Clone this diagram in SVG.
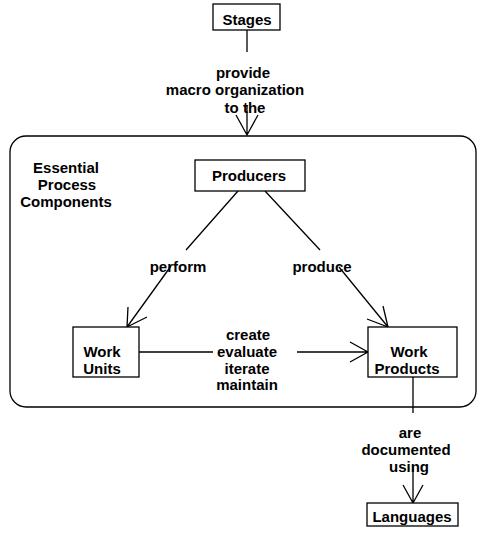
<svg xmlns="http://www.w3.org/2000/svg" width="478" height="538" viewBox="0 0 478 538">
<style>
text{font-family:"Liberation Sans",Arial,sans-serif;font-weight:bold;font-size:15px;fill:#000;text-anchor:middle}
.box{fill:#fff;stroke:#000;stroke-width:1.3}
.ln{fill:none;stroke:#000;stroke-width:1.3}
</style>
<rect width="478" height="538" fill="#fff"/>
<g id="container">
<rect x="10" y="136" width="466" height="271" rx="16" ry="16" class="ln"/>
<text x="66" y="173">Essential</text>
<text x="67" y="190">Process</text>
<text x="66" y="207">Components</text>
</g>
<g id="connectors">
<path class="ln" d="M247,30 V52 M247,105 V135 M236,115 L247,135 L258,115"/>
<text x="243" y="78">provide</text>
<text x="235" y="95">macro organization</text>
<text x="245" y="113">to the</text>
<path class="ln" d="M238,191 L186,250 M171,266 L127,327 M128,307 L127,327 L147,317"/>
<text x="178" y="272">perform</text>
<path class="ln" d="M265,191 L320,250 M339,267 L388,327 M367,319 L388,327 L383,306"/>
<text x="322" y="272">produce</text>
<path class="ln" d="M139,352 H213 M297,352 H368 M350,342 L368,352 L350,362"/>
<text x="248" y="340">create</text>
<text x="247" y="357">evaluate</text>
<text x="247" y="374">iterate</text>
<text x="247" y="390">maintain</text>
<path class="ln" d="M413,377 V413 M413,466 V503 M403,485 L413,503 L423,485"/>
<text x="410" y="438">are</text>
<text x="406" y="455">documented</text>
<text x="409" y="472">using</text>
</g>
<g id="stages">
<rect x="213" y="4" width="67" height="26" class="box"/>
<text x="247" y="25">Stages</text>
</g>
<g id="producers">
<rect x="195" y="160" width="110" height="31" class="box"/>
<text x="249" y="181">Producers</text>
</g>
<g id="workunits">
<rect x="73" y="327" width="66" height="50" class="box"/>
<text x="102" y="357">Work</text>
<text x="102" y="374">Units</text>
</g>
<g id="workproducts">
<rect x="368" y="327" width="89" height="50" class="box"/>
<text x="409" y="357">Work</text>
<text x="407" y="374">Products</text>
</g>
<g id="languages">
<rect x="367" y="503" width="91" height="23" class="box"/>
<text x="412" y="522">Languages</text>
</g>
</svg>
